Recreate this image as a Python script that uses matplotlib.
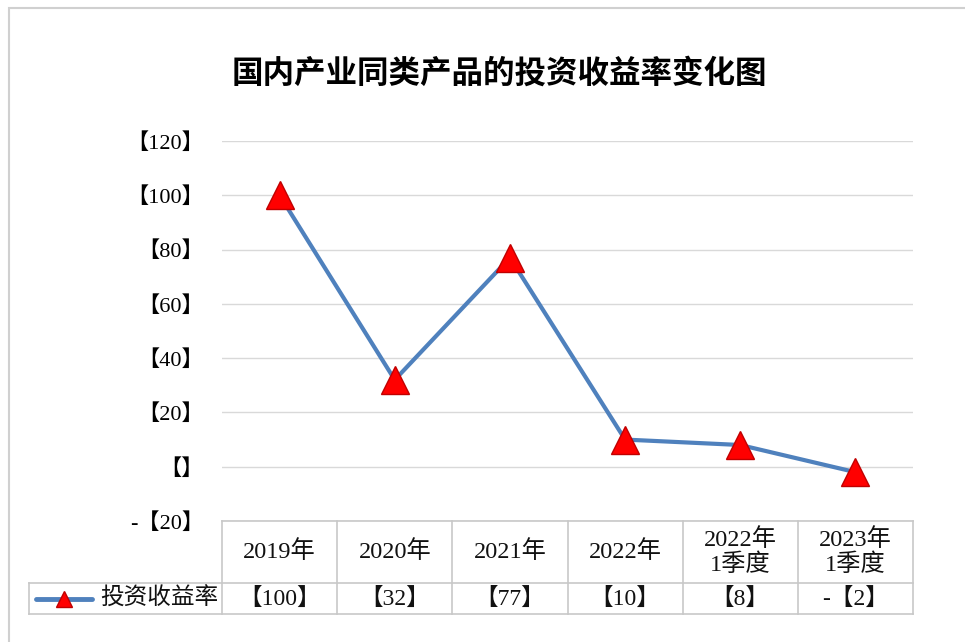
import matplotlib.pyplot as plt
from matplotlib.patches import Rectangle
from matplotlib.transforms import blended_transform_factory

# chart data
categories = ["2019年", "2020年", "2021年", "2022年", "2022年\n1季度", "2023年\n1季度"]
returns = [100, 32, 77, 10, 8, -2]
series_name = "投资收益率"
y_ticks = [-20, 0, 20, 40, 60, 80, 100, 120]

plt.rcParams['font.family'] = ['Liberation Serif', 'Noto Sans CJK SC', 'DejaVu Sans']

LINE_BLUE = "#4F81BD"
GRID = "#D9D9D9"
TABLE_LINE = "#C8C8C8"


def bracket(v):
    # the original chart shows numbers wrapped in 【】
    if v == 0:
        return "【】"
    if v < 0:
        return "-【%d】" % abs(v)
    return "【%d】" % v


fig = plt.figure(figsize=(9.65, 6.42), dpi=100)
fig.patch.set_facecolor("white")

# outer chart border (runs off the right and bottom of the picture)
fig.patches.append(Rectangle((9 / 965, -0.1), 1.2, 1.1 - 8 / 642, transform=fig.transFigure,
                             fill=False, edgecolor="#D0D0D0", linewidth=1.5))

ax = fig.add_axes([222 / 965, 1 - 521 / 642, 691 / 965, 380 / 642])
x = list(range(len(categories)))
ax.plot(x, returns, color=LINE_BLUE, linewidth=3, marker="^", markersize=20,
        markerfacecolor="#FF0000", markeredgecolor="#C00000", markeredgewidth=1, zorder=3)

ax.set_xlim(-0.5, len(categories) - 0.5)
ax.set_ylim(-20, 120)
ax.set_yticks(y_ticks)
ax.set_yticklabels([bracket(t) for t in y_ticks], fontsize=16)
ax.set_xticks([])
ax.tick_params(axis="y", length=0, pad=13)
ax.yaxis.grid(True, color=GRID, linewidth=1)
ax.set_axisbelow(True)
for s in ax.spines.values():
    s.set_visible(False)

fig.text(0.517, 0.886, "国内产业同类产品的投资收益率变化图", ha="center", va="center",
         fontsize=22.7, fontweight="bold", family=['Noto Sans CJK SC'])

# data table under the axis
tr = blended_transform_factory(ax.transData, ax.transAxes)
px = 691 / len(categories)
left_x = -0.5 - (222 - 29) / px
y_head = 0
y_mid = -(583 - 521) / 380
y_bot = -(614 - 521) / 380


def tline(xs, ys):
    ax.plot(xs, ys, color=TABLE_LINE, linewidth=1.2, transform=tr, clip_on=False, zorder=1)


tline([-0.5, len(categories) - 0.5], [y_head, y_head])
tline([left_x, len(categories) - 0.5], [y_mid, y_mid])
tline([left_x, len(categories) - 0.5], [y_bot, y_bot])
tline([left_x, left_x], [y_mid, y_bot])
for i in range(len(categories) + 1):
    tline([i - 0.5, i - 0.5], [y_head, y_bot])

for i, (c, v) in enumerate(zip(categories, returns)):
    ax.text(i, (y_head + y_mid) / 2, c, transform=tr, ha="center", va="center",
            fontsize=17.5, linespacing=1.1, color="#111111")
    ax.text(i, (y_mid + y_bot) / 2, bracket(v), transform=tr, ha="center", va="center",
            fontsize=17, color="#111111")

# legend key inside the table
key_l = -0.5 - (222 - 36) / px
key_r = -0.5 - (222 - 92) / px
y_row = (y_mid + y_bot) / 2
ax.plot([key_l, key_r], [y_row, y_row], color=LINE_BLUE, linewidth=3.5,
        transform=tr, clip_on=False, solid_capstyle="round")
ax.plot([(key_l + key_r) / 2], [y_row], marker="^", markersize=12, color="#FF0000",
        markeredgecolor="#C00000", transform=tr, clip_on=False)
ax.text(-0.5 - (222 - 100) / px, y_row, series_name, transform=tr, ha="left", va="center",
        fontsize=17, color="#111111")

plt.savefig("out.png", dpi=100)
